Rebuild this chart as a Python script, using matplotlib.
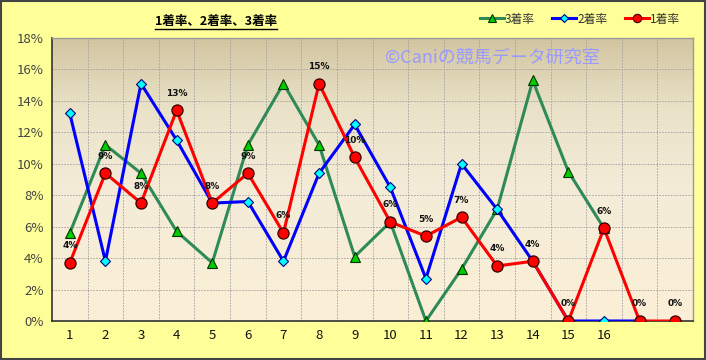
import numpy as np
import matplotlib
matplotlib.use("Agg")
import matplotlib.pyplot as plt
from matplotlib.lines import Line2D
from matplotlib.colors import LinearSegmentedColormap

plt.rcParams['font.family'] = ['Noto Sans CJK JP', 'DejaVu Sans']

categories = list(range(1, 19))
tick_labels = [str(i) for i in range(1, 17)] + ["", ""]
nan = np.nan
rate1 = [3.7, 9.4, 7.5, 13.4, 7.5, 9.4, 5.6, 15.1, 10.4, 6.3, 5.4, 6.6, 3.5, 3.8, 0.0, 5.9, 0.0, 0.0]
rate2 = [13.2, 3.8, 15.1, 11.5, 7.5, 7.6, 3.8, 9.4, 12.5, 8.5, 2.7, 10.0, 7.1, 3.8, 0.0, 0.0, 0.0, nan]
rate3 = [5.6, 11.2, 9.4, 5.7, 3.7, 11.2, 15.1, 11.2, 4.1, 6.3, 0.0, 3.3, 7.1, 15.3, 9.5, 5.9, nan, nan]
labels1 = ["4%", "9%", "8%", "13%", "8%", "9%", "6%", "15%", "10%", "6%", "5%", "7%", "4%", "4%", "0%", "6%", "0%", "0%"]

W, H = 706, 360
fig = plt.figure(figsize=(W/100, H/100), dpi=100, facecolor="#FFFF99")
ax = fig.add_axes([52/W, 1-321/H, (693-52)/W, (321-38)/H])

x = np.array(categories)
ax.set_xlim(0.5, 18.5)
ax.set_ylim(0, 18)

# gradient background
cmap = LinearSegmentedColormap.from_list("bg", [(0, "#FCEFD6"), (0.45, "#F4ECD8"), (0.75, "#EAE2C8"), (1, "#D2C5A0")])
grad = np.linspace(0, 1, 256).reshape(-1, 1)
ax.imshow(grad, aspect="auto", cmap=cmap, origin="lower", extent=(0.5, 18.5, 0, 18), zorder=0)

# grid
for xv in np.arange(1.5, 18.5, 1.0):
    ax.axvline(xv, color="#A0A0A0", lw=0.6, ls=(0, (2, 1.5)), zorder=1)
for yv in np.arange(2, 18, 2):
    ax.axhline(yv, color="#A0A0A0", lw=0.6, ls=(0, (2, 1.5)), zorder=1)

ax.plot(x, rate3, color="#2E8B57", lw=2.2, marker="^", ms=6.5, mfc="#00CC00", mec="#003300", mew=0.8, zorder=3)
ax.plot(x, rate2, color="#0000FF", lw=2.2, marker="D", ms=5, mfc="#00FFFF", mec="#000080", mew=0.8, zorder=4)
ax.plot(x, rate1, color="#FF0000", lw=2.2, marker="o", ms=8, mfc="#FF0000", mec="#330000", mew=0.9, zorder=5)

for xi, yi, lb in zip(x, rate1, labels1):
    ax.annotate(lb, (xi, yi), xytext=(0, 9), textcoords="offset points", ha="center", va="bottom",
                fontsize=6.5, fontweight="bold", color="#111111", zorder=6, family=["DejaVu Sans"])

ax.set_xticks(x)
ax.set_xticklabels(tick_labels, fontsize=9.5, color="#111111")
ax.set_yticks(np.arange(0, 19, 2))
ax.set_yticklabels([f"{v}%" for v in range(0, 19, 2)], fontsize=9.5, color="#444444")
ax.tick_params(length=0, pad=6)
for s in ["left", "bottom"]:
    ax.spines[s].set_color("#333333")
    ax.spines[s].set_linewidth(1.2)
for s in ["top", "right"]:
    ax.spines[s].set_color("#999999")
    ax.spines[s].set_linewidth(1.0)

# watermark
fig.text(385/W, 1-58/H, "©Caniの競馬データ研究室", fontsize=13, color="#9999FF",
         ha="left", va="center", zorder=7)
# title
t = fig.text(216/W, 1-22/H, "1着率、2着率、3着率", fontsize=9, fontweight="bold", ha="center", va="center")
fig.canvas.draw()
bb = t.get_window_extent()
fig.add_artist(Line2D([bb.x0/W, bb.x1/W], [(bb.y0-0.5)/H, (bb.y0-0.5)/H], color="black", lw=1.0))

# legend
handles = [
    Line2D([], [], color="#2E8B57", lw=2.2, marker="^", ms=5.5, mfc="#00CC00", mec="#003300", mew=0.8),
    Line2D([], [], color="#0000FF", lw=2.2, marker="D", ms=4, mfc="#00FFFF", mec="#000080", mew=0.8),
    Line2D([], [], color="#FF0000", lw=2.2, marker="o", ms=6, mfc="#FF0000", mec="#330000", mew=0.8),
]
fig.legend(handles, ["3着率", "2着率", "1着率"], loc="center", bbox_to_anchor=(580/W, 1-19/H),
           ncol=3, frameon=False, fontsize=8.5, handlelength=2.0, handletextpad=0.1, columnspacing=1.5,
           labelcolor="#333333")

# figure border
fig.add_artist(plt.Rectangle((0.001, 0.002), 0.997, 0.996, transform=fig.transFigure, fill=False,
                             ec="#444444", lw=1.5))

fig.savefig("out.png", dpi=100, facecolor=fig.get_facecolor())
